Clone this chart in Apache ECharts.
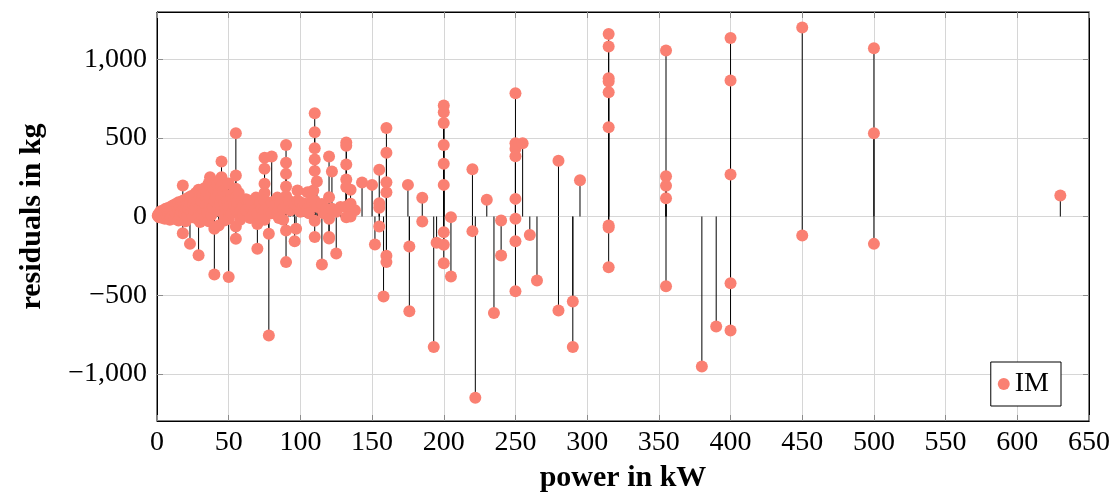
<!DOCTYPE html>
<html>
<head>
<meta charset="utf-8">
<script src="https://cdn.jsdelivr.net/npm/echarts@6/dist/echarts.min.js"></script>
<style>
  html, body { margin: 0; padding: 0; background: #fff; }
  #chart { width: 1115px; height: 497px; }
</style>
</head>
<body>
<div id="chart"></div>
<script>
// power in kW of each motor (x) and the residual in kg (y)
const power = [
  0.5, 1, 1.5, 2, 2.2, 3, 3, 4, 4, 5, 5, 5.5, 6, 6, 7, 7.5, 8, 8, 9, 9, 10, 10, 10,
  11, 11, 12, 12, 13, 13, 14, 14, 15, 15, 15, 16, 16, 17, 17, 18, 18, 18, 19, 19, 20, 20, 20,
  21, 21, 22, 22, 23, 23, 24, 24, 25, 25, 26, 26, 27, 27, 28, 28, 29, 29, 30, 30, 30,
  31, 31, 32, 32, 33, 33, 34, 34, 35, 35, 36, 36, 37, 37, 38, 38, 39, 39, 40, 40, 40, 40,
  41, 42, 42, 43, 43, 44, 44, 45, 45, 45, 45, 45, 46, 47, 47, 48, 48, 49, 50, 50, 50, 50,
  52, 52, 53, 54, 55, 55, 55, 55, 55, 55, 55, 56, 57, 58, 58, 59, 60, 60,
  62, 62, 64, 65, 65, 66, 68, 69, 70, 70, 70, 72, 73, 75, 75, 75, 75, 75, 75, 75,
  78, 78, 78, 80, 80, 80, 82, 84, 84, 85, 86, 88, 88, 90, 90, 90, 90, 90, 90, 90, 90,
  92, 93, 95, 96, 96, 97, 98, 98, 100, 100, 102, 103, 105, 105, 106, 108, 109,
  110, 110, 110, 110, 110, 110, 110, 110, 111.5, 112,
  115, 115, 116, 118, 120, 120, 120, 120, 120, 122, 122, 125, 125, 128,
  132, 132, 132, 132, 132, 132, 132, 135, 135, 135, 138, 143, 150,
  152, 155, 155, 155, 155, 158, 160, 160, 160, 160, 160, 160,
  175, 176, 176, 185, 185, 193, 195, 200, 200, 200, 200, 200, 200, 200, 200, 200, 205, 205,
  220, 220, 222, 230, 235, 240, 240, 250, 250, 250, 250, 250, 250, 250, 250, 255, 260, 265,
  280, 280, 290, 290, 295,
  315, 315, 315, 315, 315, 315, 315, 315, 315,
  355, 355, 355, 355, 355, 380, 390, 400, 400, 400, 400, 400,
  450, 450, 500, 500, 500, 630
];
const residual = [
  5, 15, -5, 20, 30, 10, 35, -10, 25, 40, 5, -15, 50, 20, 30, -5, 55, 15, 40, -20, 60, 25, -10,
  70, 35, 45, -15, 80, 20, 55, -5, 90, 40, -25, 65, 10, 85, 30, 197, 100, -106, 60, 20, 110, 45, -30,
  75, 5, 120, 50, 90, -174, 130, 30, 70, -5, 110, 40, 150, 60, -15, 95, 170, -246, 130, -35, 60,
  100, 15, 140, 45, 180, -10, 120, 70, 160, 25, 210, -30, 250, 90, 140, 10, 190, 55, 170, -368, 100, -78,
  120, 200, 40, 150, -57, 230, 80, 350, 250, 190, 120, 30, 160, 90, -25, 130, 50, 100, 210, 60, -15, -385,
  140, 20, 110, 70, 530, 260, 176, 120, 40, -64, -142, 90, 150, 30, -20, 100, 70, 10,
  110, 40, 102, 60, -10, 80, 40, 120, 20, -47, -205, 90, 50, 373, 303, 208, 150, 100, 40, -20,
  -110, -756, 60, 381, 90, 20, 70, 120, 30, -10, 90, 50, -20, 455, 341, 271, 190, 130, 70, -89, -290,
  100, 40, 80, -157, 81, -78, 165, 100, 90, 30, 70, 81, 154, 50, 20, 102, 165,
  656, 536, 434, 362, 290, 100, -27, -131, 222, 60,
  -305, 80, 20, 50, 381, 123, -15, -131, -140, 286, 49, -235, 30, 60,
  470, 450, 330, 235, 187, 64, -5, 170, 81, 0, 40, 216, 201,
  -178, 297, 85, 55, -64, -508, 563, 405, 218, 154, -250, -290,
  201, -191, -602, 119, -32, -830, -167, 705, 663, 595, 455, 335, 201, -100, -180, -297, -4, -381,
  300, -93, -1152, 106, -614, -25, -248, 783, 466, 430, 383, 112, -15, -157, -475, 466, -117, -407,
  354, -597, -540, -830, 231,
  1160, 1080, 879, 858, 790, 567, -57, -70, -322,
  1055, 256, 195, 116, -443, -953, -699, 1135, 864, 267, -424, -724,
  1201, -121, 1069, 529, -174, 133
];
const xTicks = [0, 50, 100, 150, 200, 250, 300, 350, 400, 450, 500, 550, 600, 650];
const yTicks = [-1000, -500, 0, 500, 1000];
const seriesName = 'IM';

const points = power.map((p, i) => [p, residual[i]]);

const font = '"Liberation Serif", "DejaVu Serif", serif';
const gridColor = '#d6d6d6';
const tickColor = '#8c8c8c';
const markerColor = '#FA8072';

const fmt = (v) => {
  const s = Math.abs(v).toString().replace(/\B(?=(\d{3})+(?!\d))/g, ',');
  return v < 0 ? '\u2212' + s : s;
};

const chart = echarts.init(document.getElementById('chart'));

const xBase = {
  type: 'value',
  min: 0,
  max: 650,
  interval: 50,
  axisLine: { show: true, onZero: false, lineStyle: { color: '#000', width: 1 } },
  axisTick: { show: true, inside: true, length: 6, lineStyle: { color: tickColor } },
};
const yBase = {
  type: 'value',
  min: -1300,
  max: 1300,
  axisLine: { show: true, onZero: false, lineStyle: { color: '#000', width: 1 } },
  axisTick: { show: true, inside: true, length: 6, customValues: yTicks, lineStyle: { color: tickColor } },
};

chart.setOption({
  animation: false,
  backgroundColor: '#fff',
  grid: {
    left: 157, right: 26, top: 12, bottom: 76,
    containLabel: false,
    outerBoundsMode: 'none',
    show: true, borderColor: '#000', borderWidth: 1,
  },
  legend: {
    data: [seriesName],
    right: 54,
    top: 362,
    orient: 'vertical',
    backgroundColor: '#fff',
    borderColor: '#000',
    borderWidth: 1,
    borderRadius: 0,
    padding: [7, 12, 7, 7],
    itemWidth: 12,
    itemHeight: 12,
    itemGap: 0,
    icon: 'circle',
    textStyle: { fontFamily: font, fontSize: 28, color: '#000', lineHeight: 30 },
  },
  xAxis: [
    Object.assign({}, xBase, {
      position: 'bottom',
      name: 'power in kW',
      nameLocation: 'middle',
      nameGap: 42,
      nameTextStyle: { fontFamily: font, fontSize: 30, fontWeight: 'bold', color: '#000' },
      axisLabel: { fontFamily: font, fontSize: 28, color: '#000', margin: 8, formatter: fmt },
      splitLine: { show: true, lineStyle: { color: gridColor, width: 1 } },
    }),
    Object.assign({}, xBase, {
      position: 'top',
      axisLabel: { show: false },
      splitLine: { show: false },
    }),
  ],
  yAxis: [
    Object.assign({}, yBase, {
      position: 'left',
      name: 'residuals in kg',
      nameLocation: 'middle',
      nameGap: 110,
      nameTextStyle: { fontFamily: font, fontSize: 30, fontWeight: 'bold', color: '#000' },
      axisLabel: {
        fontFamily: font, fontSize: 28, color: '#000', margin: 10,
        customValues: yTicks, formatter: fmt,
      },
      splitLine: { show: true, lineStyle: { color: gridColor, width: 1 } },
    }),
    Object.assign({}, yBase, {
      position: 'right',
      axisLabel: { show: false },
      splitLine: { show: false },
    }),
  ],
  series: [
    {
      // stems from zero to each point
      name: 'stems',
      type: 'custom',
      xAxisIndex: 0,
      yAxisIndex: 0,
      data: points,
      encode: { x: 0, y: 1 },
      clip: true,
      silent: true,
      renderItem: (params, api) => {
        const x = api.value(0);
        const y = api.value(1);
        const p0 = api.coord([x, 0]);
        const p1 = api.coord([x, y]);
        return {
          type: 'line',
          shape: { x1: p0[0], y1: p0[1], x2: p1[0], y2: p1[1] },
          style: { stroke: '#000', lineWidth: 1 },
        };
      },
    },
    {
      name: seriesName,
      type: 'scatter',
      xAxisIndex: 0,
      yAxisIndex: 0,
      data: points,
      symbol: 'circle',
      symbolSize: 12,
      itemStyle: { color: markerColor, opacity: 1 },
    },
  ],
});
</script>
</body>
</html>
